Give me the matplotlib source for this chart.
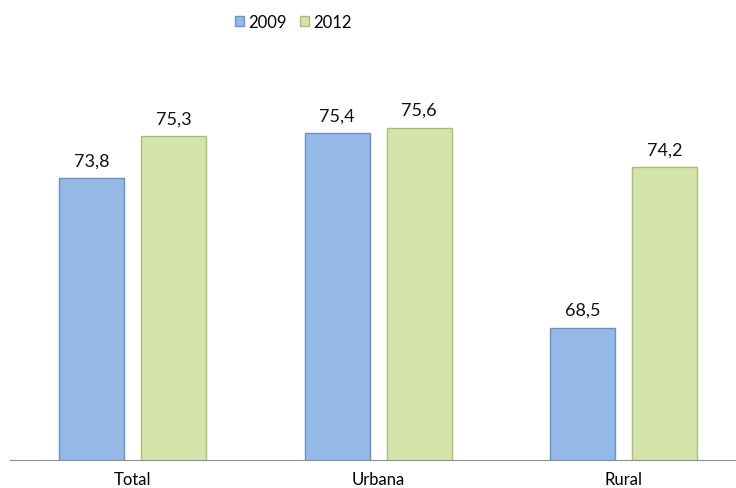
import matplotlib.pyplot as plt
import numpy as np

categories = ['Total', 'Urbana', 'Rural']
years = ['2009', '2012']
values_2009 = [73.8, 75.4, 68.5]
values_2012 = [75.3, 75.6, 74.2]

colors = ['#95B9E6', '#D4E3A9']
edges = ['#6F8FBF', '#A9BC7A']

plt.rcParams['font.family'] = ['Lato', 'DejaVu Sans']

fig = plt.figure(figsize=(7.36, 4.89), dpi=100)
ax = fig.add_axes([10 / 736, 0.0573, 1 - 10 / 736, 0.818])

x = np.arange(len(categories))
w = 0.265
off = 0.167

for i, (vals, yr) in enumerate(zip([values_2009, values_2012], years)):
    pos = x + (-off if i == 0 else off)
    bars = ax.bar(pos, vals, width=w, bottom=0, color=colors[i], edgecolor=edges[i],
                  linewidth=1.0, label=yr, zorder=2)
    for b, v in zip(bars, vals):
        ax.text(b.get_x() + b.get_width() / 2, v + 0.35, '{:.1f}'.format(v).replace('.', ','),
                ha='center', va='bottom', fontsize=13, color='#111111')

ax.set_ylim(63.8, 78)
ax.set_xlim(-0.5, 2.457)
ax.set_yticks([])
ax.set_xticks(x)
ax.set_xticklabels(categories, fontsize=12)
ax.tick_params(axis='x', length=0, pad=8)
for s in ['top', 'right', 'left']:
    ax.spines[s].set_visible(False)
ax.spines['bottom'].set_color('#8C8C8C')

leg = fig.legend(loc='upper left', bbox_to_anchor=(220 / 736, 1.0), ncol=2, frameon=False,
                 fontsize=12, handlelength=0.55, handleheight=0.55, handletextpad=0.25,
                 columnspacing=0.8)

plt.savefig('out.png', dpi=100)
